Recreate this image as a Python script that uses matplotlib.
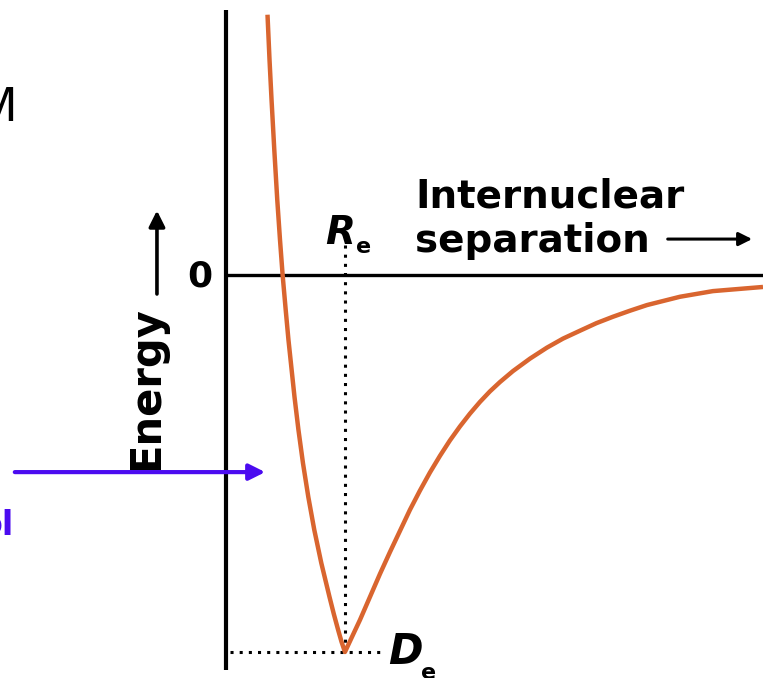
import matplotlib
matplotlib.use("Agg")
import matplotlib.pyplot as plt

# Potential energy curve (r in units of Re, E in units of De)
r_left = [0.349, 0.366, 0.383, 0.406, 0.431, 0.454, 0.476, 0.502, 0.525, 0.576,
          0.609, 0.647, 0.692, 0.742, 0.801, 0.870, 0.906, 0.943, 0.971, 1.000]
e_left = [0.690, 0.570, 0.464, 0.332, 0.199, 0.093, 0.000, -0.093, -0.172, -0.324,
          -0.411, -0.499, -0.589, -0.676, -0.764, -0.854, -0.899, -0.942, -0.973, -1.000]
r_right = [1.059, 1.126, 1.210, 1.294, 1.378, 1.462, 1.546, 1.630, 1.714, 1.798,
           1.882, 1.966, 2.050, 2.134, 2.218, 2.303, 2.412, 2.555, 2.697, 2.832,
           2.975, 3.113, 3.252, 3.395, 3.538, 3.815, 4.092, 4.513]
e_right = [-0.960, -0.915, -0.854, -0.793, -0.735, -0.679, -0.623, -0.572, -0.524, -0.480,
           -0.439, -0.402, -0.368, -0.337, -0.309, -0.284, -0.255, -0.222, -0.193, -0.169,
           -0.148, -0.128, -0.111, -0.095, -0.080, -0.058, -0.043, -0.032]

r_curve = r_left + r_right
e_curve = e_left + e_right

r_eq = 1.0
depth = -1.0

plt.rcParams["font.family"] = ["DejaVu Sans"]

fig = plt.figure(figsize=(7.63, 6.78), dpi=100)
ax = fig.add_axes([0, 0, 1, 1])
ax.set_xlim(-1.899, 4.513)
ax.set_ylim(-1.069, 0.729)
ax.axis("off")

# axes
ax.plot([0, 0], [-1.048, 0.703], color="black", lw=3, solid_capstyle="butt")
ax.plot([0, 4.513], [0, 0], color="black", lw=2.4, solid_capstyle="butt")

# dotted guides
ax.plot([r_eq, r_eq], [0.08, depth], color="black", lw=2.2, linestyle=(0, (1, 2)))
ax.plot([0.034, 1.294], [depth, depth], color="black", lw=2.2, linestyle=(0, (1, 2)))

# curve
ax.plot(r_curve, e_curve, color="#D9652F", lw=3.2, solid_joinstyle="round",
        solid_capstyle="butt")

# labels
bold = dict(fontweight="bold", color="black")
ax.text(-0.218, -0.003, "0", fontsize=26, ha="center", va="center", **bold)
ax.text(-0.672, -0.300, "Energy", fontsize=30, rotation=90, ha="center", va="center", **bold)
ax.annotate("", xy=(-0.58, 0.178), xytext=(-0.58, -0.058),
            arrowprops=dict(arrowstyle="-|>", color="black", lw=2.6, mutation_scale=24))
ax.text(1.588, 0.180, "Internuclear", fontsize=28, ha="left", va="baseline", **bold)
ax.text(1.588, 0.061, "separation", fontsize=28, ha="left", va="baseline", **bold)
ax.annotate("", xy=(4.445, 0.095), xytext=(3.689, 0.095),
            arrowprops=dict(arrowstyle="-|>", color="black", lw=2.2, mutation_scale=20))
ax.text(0.958, 0.111, "R", fontsize=28, fontstyle="italic", ha="center", va="center", **bold)
ax.text(1.160, 0.074, "e", fontsize=16, ha="center", va="center", **bold)
ax.text(1.504, -1.0, "D", fontsize=30, fontstyle="italic", ha="center", va="center", **bold)
ax.text(1.70, -1.055, "e", fontsize=16, ha="center", va="center", **bold)

# cropped annotation at the left edge
ax.text(-1.756, 0.44, "M", fontsize=33, ha="right", va="center", color="black")
ax.annotate("", xy=(0.353, -0.523), xytext=(-1.798, -0.523),
            arrowprops=dict(arrowstyle="-|>", color="#4B0BF0", lw=3, mutation_scale=24))
ax.text(-1.78, -0.665, "ol", fontsize=24, ha="right", va="center", color="#4B0BF0",
        fontweight="bold")

fig.savefig("out.png", dpi=100)
